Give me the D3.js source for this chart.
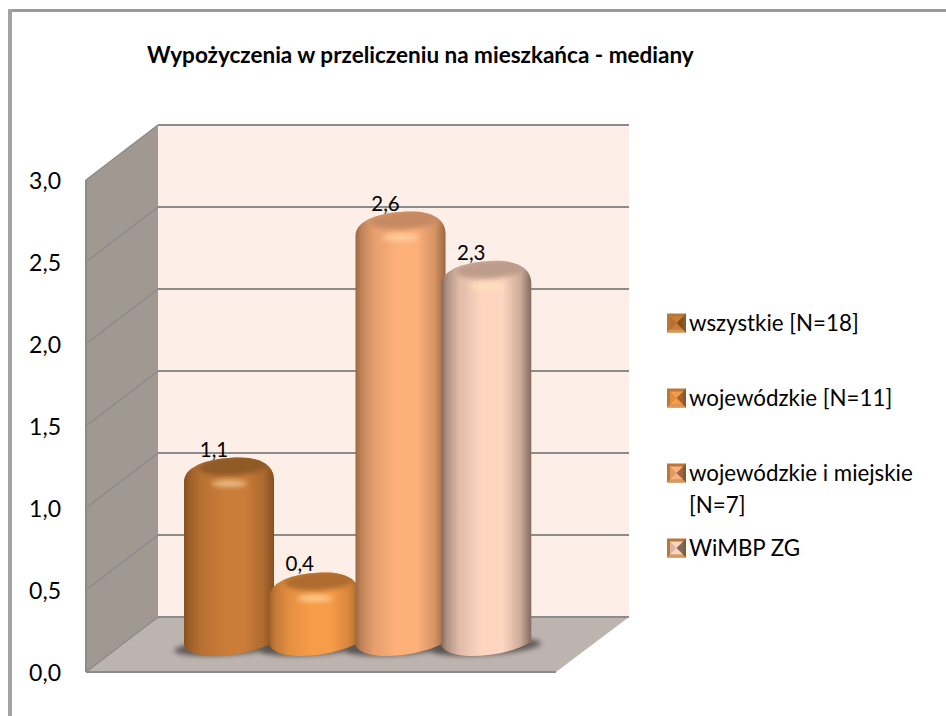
<!DOCTYPE html>
<html><head><meta charset="utf-8">
<script src="https://cdn.jsdelivr.net/npm/d3@7/dist/d3.min.js"></script>
<style>html,body{margin:0;padding:0;background:#fff}svg{display:block}text{font-family:Lato,"Open Sans",sans-serif;fill:#000}</style>
</head><body><svg id="c" width="946" height="716"></svg>
<script>
const title = "Wypożyczenia w przeliczeniu na mieszkańca - mediany";
const categories = ["wszystkie [N=18]", "wojewódzkie [N=11]", "wojewódzkie i miejskie [N=7]", "WiMBP ZG"];
const values = [1.1, 0.4, 2.6, 2.3];
const valueLabels = ["1,1", "0,4", "2,6", "2,3"];
const yTicks = [0, 0.5, 1, 1.5, 2, 2.5, 3];
const tickLabels = ["0,0", "0,5", "1,0", "1,5", "2,0", "2,5", "3,0"];
const baseColors = ["#ca7c39", "#f79c48", "#fdb07a", "#fed6c0"];
const capColors = ["#8f5a28", "#ad6c2d", "#c68a62", "#bd9c8b"];
const edgeColors = ["#85501f", "#a5652a", "#9c6844", "#836a5e"];
const legendLines = [["wszystkie [N=18]"], ["wojewódzkie [N=11]"], ["wojewódzkie i miejskie", "[N=7]"], ["WiMBP ZG"]];
const legendRowY = [323, 398, 473, 548];

const svg = d3.select("#c");
const defs = svg.append("defs");
defs.append("filter").attr("id","b2").attr("x","-50%").attr("y","-50%").attr("width","200%").attr("height","200%")
  .append("feGaussianBlur").attr("stdDeviation",2.5);

// frame
svg.append("rect").attr("x",8).attr("y",9).attr("width",938).attr("height",3).attr("fill","#9a9a9a");
svg.append("rect").attr("x",8).attr("y",9).attr("width",4).attr("height",707).attr("fill","#a2a2a2");

// scales
const yBack = d3.scaleLinear().domain([0,3]).range([617,125]);
const yFront = d3.scaleLinear().domain([0,3]).range([672,180]);
const yBar = d3.scaleLinear().domain([0,3]).range([638,146]);
const x = d3.scaleBand().domain(categories).range([184,527]);
const xL = 158, xR = 629, xF = 86, xFR = 556;

// walls
svg.append("rect").attr("x",xL).attr("y",yBack(3)).attr("width",xR-xL).attr("height",yBack(0)-yBack(3)).attr("fill","#fdeee7");
svg.append("path").attr("d",`M${xF},${yFront(3)}L${xL},${yBack(3)}L${xL},${yBack(0)}L${xF},${yFront(0)}Z`).attr("fill","#a19892");
svg.append("path").attr("d",`M${xF},${yFront(0)}L${xL},${yBack(0)}L${xR},${yBack(0)}L${xFR},${yFront(0)}Z`).attr("fill","#bdb4b0");

// gridlines
yTicks.forEach(t=>{
  const g = svg.append("g").attr("fill","none").attr("stroke","#8b8b8b");
  g.append("line").attr("x1",xL).attr("x2",xR).attr("y1",yBack(t)).attr("y2",yBack(t)).attr("stroke-width",2);
  g.append("line").attr("x1",xF).attr("x2",xL).attr("y1",yFront(t)).attr("y2",yBack(t)).attr("stroke-width",1.5);
});
svg.append("line").attr("x1",xF).attr("x2",xF).attr("y1",yFront(3)).attr("y2",yFront(0)).attr("stroke","#8b8b8b").attr("stroke-width",2);
svg.append("line").attr("x1",xF).attr("x2",xFR).attr("y1",yFront(0)).attr("y2",yFront(0)).attr("stroke","#8b8b8b").attr("stroke-width",2);

// tick labels
svg.append("g").selectAll("text").data(yTicks).join("text")
  .attr("x",61).attr("y",d=>yFront(d)+9).attr("text-anchor","end").attr("font-size",23)
  .text((d,i)=>tickLabels[i]);

// title
svg.append("text").attr("x",147).attr("y",63).attr("font-size",22.5).attr("font-weight",700).text(title);

// bars
const barW = x.bandwidth()*1.05;
const footDrop = 18;
function silhouette(x0, top, w, bottom){
  const x1 = x0+w;
  return `M${x0},${bottom-12}`+
    `L${x0},${top+24}`+
    `C${x0},${top+8} ${x0+w*0.3},${top} ${x0+w*0.62},${top}`+
    `C${x0+w*0.85},${top} ${x1},${top+8} ${x1},${top+22}`+
    `L${x1},${bottom-14}`+
    `C${x1-w*0.2},${bottom-4} ${x0+w*0.55},${bottom} ${x0+w*0.33},${bottom}`+
    `C${x0+w*0.15},${bottom} ${x0},${bottom-5} ${x0},${bottom-12}Z`;
}
const bars = categories.map((c,i)=>({c,v:values[i],i}));
bars.forEach(d=>{
  const mix = d3.interpolateRgb(edgeColors[d.i],baseColors[d.i]);
  const g = defs.append("linearGradient").attr("id","bg"+d.i);
  [[0,0],[0.06,0.35],[0.2,0.75],[0.45,1],[0.68,1],[0.88,0.6],[1,0]]
   .forEach(s=>g.append("stop").attr("offset",s[0]).attr("stop-color",mix(s[1])));
  defs.append("clipPath").attr("id","cl"+d.i)
    .append("path").attr("d",silhouette(x(d.c),yBar(d.v),barW,yBar(0)+footDrop));
});
// shadows under bars
svg.append("g").selectAll("ellipse").data(bars).join("ellipse")
  .attr("cx",d=>x(d.c)+barW/2).attr("cy",yBar(0)+footDrop-9)
  .attr("rx",barW/2+10).attr("ry",8).attr("fill","#4b4543").attr("opacity",0.8)
  .attr("transform",d=>`rotate(-4 ${x(d.c)+barW/2} ${yBar(0)+footDrop-9})`)
  .attr("filter","url(#b2)");

const gb = svg.append("g").selectAll("g").data(bars).join("g");
gb.append("path").attr("d",d=>silhouette(x(d.c),yBar(d.v),barW,yBar(0)+footDrop)).attr("fill",d=>`url(#bg${d.i})`);
const inner = gb.append("g").attr("clip-path",d=>`url(#cl${d.i})`);
inner.append("ellipse")
  .attr("cx",d=>x(d.c)+barW*0.56).attr("cy",d=>yBar(d.v)+8)
  .attr("rx",barW*0.40).attr("ry",10).attr("fill",d=>capColors[d.i])
  .attr("transform",d=>`rotate(-4 ${x(d.c)+barW*0.56} ${yBar(d.v)+8})`)
  .attr("filter","url(#b2)");
inner.append("ellipse")
  .attr("cx",d=>x(d.c)+barW*0.5).attr("cy",d=>yBar(d.v)+26)
  .attr("rx",barW*0.2).attr("ry",3.5).attr("fill","#ffe6b8").attr("opacity",0.6)
  .attr("filter","url(#b2)");

// value labels
svg.append("g").selectAll("text").data(bars).join("text")
  .attr("x",d=>x(d.c)+barW/2-15).attr("y",d=>yBar(d.v)-1).attr("text-anchor","middle").attr("font-size",20.5)
  .text(d=>valueLabels[d.i]);

// legend
const leg = svg.append("g").selectAll("g").data(bars).join("g")
  .attr("transform",d=>`translate(667,${legendRowY[d.i]-9.5})`);
const s = 19, b = 3, m = s/2;
leg.append("rect").attr("width",s).attr("height",s).attr("fill","#b9783a");
leg.append("path").attr("d",`M0,${s}L${s},${s}L${s-b},${s-b}L${b},${s-b}Z`).attr("fill","#d49a5c");
leg.append("path").attr("d",`M${s},0L${s},${s}L${s-b},${s-b}L${s-b},${b}Z`).attr("fill","#8a5a2c");
leg.append("rect").attr("x",b).attr("y",b).attr("width",s-2*b).attr("height",s-2*b).attr("fill",d=>baseColors[d.i]);
leg.append("path").attr("d",`M${s-b},${b}L${s-b},${s-b}L${m},${m}Z`).attr("fill",d=>edgeColors[d.i]);
leg.append("path").attr("d",`M${b},${b}L${b},${s-b}L${m},${m}Z`).attr("fill",d=>d3.interpolateRgb(edgeColors[d.i],baseColors[d.i])(0.7));
leg.each(function(d){
  const n = d3.select(this);
  legendLines[d.i].forEach((ln,k)=>{
    n.append("text").attr("x",22).attr("y",17.5+k*32).attr("font-size",22.3).text(ln);
  });
});
</script></body></html>
